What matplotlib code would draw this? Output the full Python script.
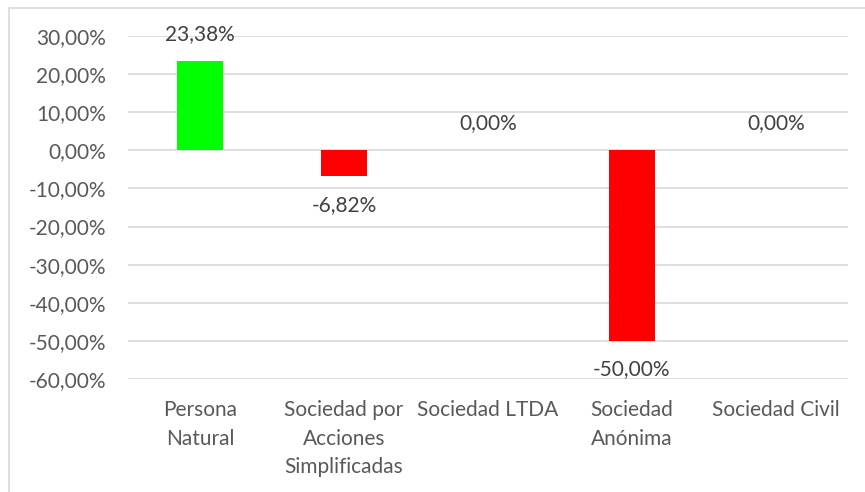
import matplotlib.pyplot as plt
from matplotlib.patches import Rectangle
from matplotlib.ticker import FuncFormatter

# data
categorias = ["Persona\nNatural", "Sociedad por\nAcciones\nSimplificadas",
              "Sociedad LTDA", "Sociedad\nAnónima", "Sociedad Civil"]
variacion = [23.38, -6.82, 0.00, -50.00, 0.00]

plt.rcParams['font.family'] = ['Lato', 'DejaVu Sans']

fig = plt.figure(figsize=(8.65, 4.92), dpi=100)
ax = fig.add_axes([128/865, 1 - 379/492, 720/865, (379 - 36)/492])

# chart border like excel
fig.patches.append(Rectangle((9/865, -0.05), 1.1, 1 - 8/492 + 0.05,
                             transform=fig.transFigure, fill=False,
                             edgecolor='#d9d9d9', linewidth=1.2))

colores = ['#00ff00' if v > 0 else '#ff0000' for v in variacion]
x = range(len(categorias))
ax.bar(x, variacion, width=0.32, color=colores, zorder=3)

# data labels
for i, v in enumerate(variacion):
    off = 19.5 if v >= 0 else -20.5
    ax.annotate(f"{v:.2f}%".replace('.', ','), (i, v), xytext=(0, off),
                textcoords='offset points', ha='center', va='center',
                fontsize=15, color='#404040')

ax.set_xlim(-0.5, len(categorias) - 0.5)
ax.set_ylim(-60, 30)
ax.set_yticks(range(-60, 31, 10))
ax.yaxis.set_major_formatter(FuncFormatter(lambda v, p: f"{v:.2f}%".replace('.', ',')))
ax.set_xticks(list(x))
ax.set_xticklabels(categorias, linespacing=1.55)

ax.grid(axis='y', color='#d9d9d9', linewidth=1.2, zorder=0)
for s in ax.spines.values():
    s.set_visible(False)
ax.tick_params(axis='both', length=0, labelsize=15, colors='#595959')
ax.tick_params(axis='y', pad=16)
ax.tick_params(axis='x', pad=15)

fig.savefig('out.png', dpi=100)
